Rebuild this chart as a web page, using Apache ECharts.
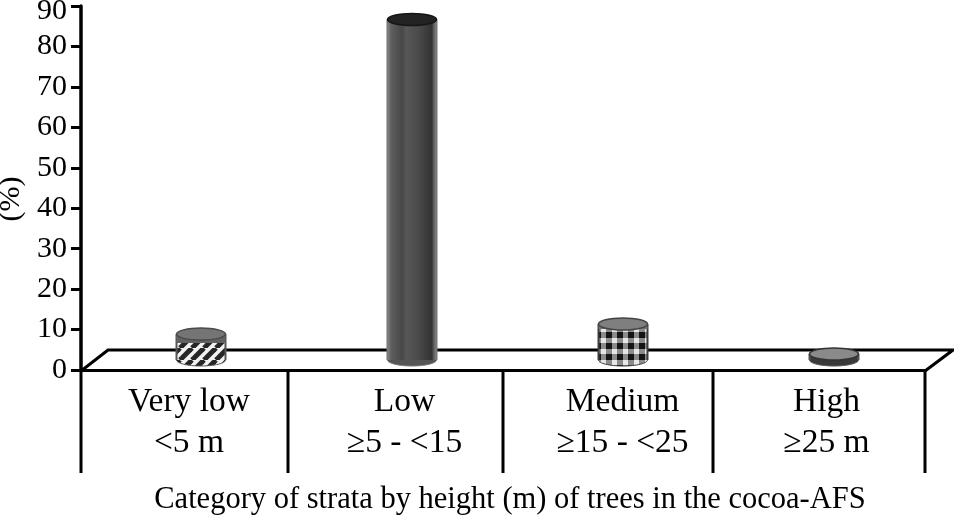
<!DOCTYPE html>
<html><head><meta charset="utf-8">
<style>html,body{margin:0;padding:0;background:#fff}#c{width:954px;height:515px}</style>
<script src="https://cdn.jsdelivr.net/npm/echarts@6/dist/echarts.min.js"></script>
</head><body><div id="c"></div>
<script>
const categories = ['Very low\n<5 m', 'Low\n≥5 - <15', 'Medium\n≥15 - <25', 'High\n≥25 m'];
const shares = [6.4, 84.2, 8.9, 1.5];
const yTicks = [0, 10, 20, 30, 40, 50, 60, 70, 80, 90];
const yTitle = '(%)';
const xTitle = 'Category of strata by height (m) of trees in the cocoa-AFS';

const SERIF = '"Liberation Serif","Times New Roman",serif';
const labelShift = [2.5, 7, 14, 7];

function tile(w, h, draw) {
  const c = document.createElement('canvas');
  c.width = w; c.height = h;
  const g = c.getContext('2d');
  draw(g);
  return { image: c, repeat: 'repeat' };
}
const stripes = tile(12, 12, g => {
  g.fillStyle = '#f2f2f2'; g.fillRect(0, 0, 12, 12);
  g.strokeStyle = '#262626'; g.lineWidth = 5;
  for (let i = -12; i <= 24; i += 12) { g.beginPath(); g.moveTo(i, 12); g.lineTo(i + 12, 0); g.stroke(); }
});
const checks = tile(11, 11, g => {
  g.fillStyle = '#e6e6e6'; g.fillRect(0, 0, 11, 11);
  g.fillStyle = '#8a8a8a';
  g.fillRect(0, 2, 11, 6); g.fillRect(1, 0, 6, 11);
  g.fillStyle = '#141414';
  g.fillRect(1, 2, 6, 6);
});
const ribs = {
  type: 'linear', x: 0, y: 0, x2: 1, y2: 0,
  colorStops: [
    { offset: 0, color: '#8d8d8d' }, { offset: 0.07, color: '#5f5f5f' },
    { offset: 0.3, color: '#474747' }, { offset: 0.38, color: '#575757' },
    { offset: 0.62, color: '#4b4b4b' }, { offset: 0.9, color: '#333' },
    { offset: 1, color: '#8d8d8d' }
  ]
};
const looks = [
  { body: stripes, band: 9, bandFill: '#626262', cap: '#757575', rim: '#4a4a4a', edge: '#555', foot: stripes },
  { body: ribs, band: 0, bandFill: '#444', cap: '#232323', rim: '#151515', edge: '#777', foot: '#555' },
  { body: checks, band: 5, bandFill: '#707070', cap: '#7f7f7f', rim: '#444', edge: '#3c3c3c', foot: checks },
  { body: '#3a3a3a', band: 0, bandFill: '#3a3a3a', cap: '#8a8a8a', rim: '#333', edge: '#555', foot: '#3a3a3a' }
];

function renderCylinder(params, api) {
  const i = api.value(0);
  const look = looks[i];
  const base = api.coord([i, 0]);
  const top = api.coord([i, api.value(1)]);
  const depthX = 14.5, depthY = -10, halfW = 24.5, ry = 6;
  const cx = base[0] + depthX, yb = base[1] + depthY, yt = top[1] + depthY;
  const l = cx - halfW, w = halfW * 2;
  return {
    type: 'group',
    children: [
      { type: 'ellipse', shape: { cx: cx, cy: yb, rx: halfW, ry: ry }, style: { fill: look.foot, stroke: look.edge, lineWidth: 1 } },
      { type: 'rect', shape: { x: l, y: yt, width: w, height: yb - yt }, style: { fill: look.body } },
      { type: 'line', shape: { x1: l, y1: yt, x2: l, y2: yb }, style: { stroke: look.edge, lineWidth: 2 } },
      { type: 'line', shape: { x1: l + w, y1: yt, x2: l + w, y2: yb }, style: { stroke: look.edge, lineWidth: 2 } },
      { type: 'rect', shape: { x: l, y: yt, width: w, height: look.band }, style: { fill: look.bandFill } },
      { type: 'ellipse', shape: { cx: cx, cy: yt, rx: halfW, ry: ry }, style: { fill: look.cap, stroke: look.rim, lineWidth: 1.5 } }
    ]
  };
}

const chart = echarts.init(document.getElementById('c'), null, { renderer: 'canvas' });
const floor = [[81, 371], [108, 350], [953, 350], [925, 371]];
const dividers = [288, 503, 713, 925];
const frameLine = { stroke: '#000', lineWidth: 3 };
chart.setOption({
  animation: false,
  backgroundColor: '#fff',
  grid: { left: 81, right: 29, top: 6, bottom: 145, outerBoundsMode: 'none' },
  xAxis: {
    type: 'category',
    data: categories.map((c, i) => ({ value: c, textStyle: { padding: [0, 0, 0, labelShift[i] * 2] } })),
    axisLine: { lineStyle: { color: '#000', width: 3 } },
    axisTick: { show: false },
    axisLabel: { interval: 0, fontFamily: SERIF, fontSize: 33.5, lineHeight: 41, color: '#000', margin: 12 },
    name: xTitle, nameLocation: 'middle', nameGap: 114,
    nameTextStyle: { fontFamily: SERIF, fontSize: 30.5, color: '#000', padding: [0, 0, 0, 14] }
  },
  yAxis: {
    type: 'value', min: 0, max: 90, interval: 10,
    axisLine: { show: true, lineStyle: { color: '#000', width: 3.5 } },
    axisTick: { show: true, length: 10, lineStyle: { color: '#000', width: 3 } },
    axisLabel: { fontFamily: SERIF, fontSize: 30, color: '#000', margin: 14,
      formatter: v => v === 90 ? '{top|' + yTicks[9] + '}' : String(yTicks[Math.round(v / 10)]),
      rich: { top: { fontFamily: SERIF, fontSize: 30, color: '#000', padding: [10, 0, 0, 0] } } },
    splitLine: { show: false },
    name: yTitle, nameLocation: 'middle', nameGap: 28, nameRotate: 90,
    nameTextStyle: { fontFamily: SERIF, fontSize: 30, color: '#000', padding: [0, 22, 0, 0] }
  },
  series: [{
    type: 'custom', z: 5, clip: false,
    encode: { x: 0, y: 1 },
    data: shares.map((v, i) => [i, v]),
    renderItem: renderCylinder
  }],
  graphic: { elements: [
    { type: 'polyline', z: 1, silent: true, shape: { points: floor }, style: Object.assign({ fill: null }, frameLine) },
    { type: 'line', z: 1, silent: true, shape: { x1: 81, y1: 370, x2: 81, y2: 473 }, style: frameLine }
  ].concat(dividers.map(x => ({
    type: 'line', z: 1, silent: true, shape: { x1: x, y1: 371, x2: x, y2: 473 }, style: frameLine
  }))) }
});
</script></body></html>
